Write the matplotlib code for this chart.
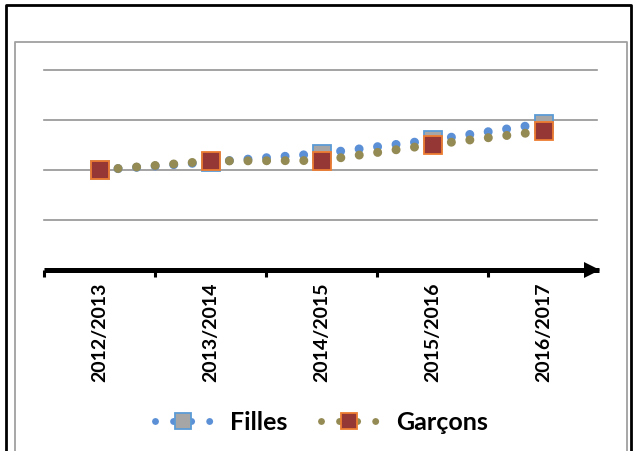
import matplotlib
matplotlib.use("Agg")
import matplotlib.pyplot as plt
from matplotlib.lines import Line2D
import numpy as np

# data (y; the value axis has no labels, 1 unit = 1 gridline)
annees = ["2012/2013", "2013/2014", "2014/2015", "2015/2016", "2016/2017"]
filles = [2.00, 2.16, 2.33, 2.60, 2.93]
garcons = [2.00, 2.18, 2.19, 2.51, 2.78]

BLEU = "#5B8FD6"
GRIS = "#A6A6A6"
BORD_BLEU = "#5B9BD5"
OLIVE = "#948A54"
ROUGE = "#953735"
ORANGE = "#ED7D31"

W, H = 634, 451
fig = plt.figure(figsize=(W / 100, H / 100), dpi=100)

# chart area borders (open at the bottom, like the crop)
fig.add_artist(Line2D([5.5 / W, 5.5 / W, 630.5 / W, 630.5 / W],
                      [0, 1 - 4.5 / H, 1 - 4.5 / H, 0], color="black", lw=2.0))
fig.add_artist(Line2D([15 / W, 15 / W, 627 / W, 627 / W],
                      [0, 1 - 41.5 / H, 1 - 41.5 / H, 0], color="#A0A0A0", lw=1.3))

ax = fig.add_axes([44 / W, 1 - 270 / H, 555 / W, 200 / H])
x = np.arange(len(annees))
ax.set_xlim(-0.5, len(annees) - 0.5)
ax.set_ylim(0, 4)

for v in [1, 2, 3, 4]:
    ax.plot([0, 553 / 555], [v / 4, v / 4], transform=ax.transAxes,
            color="#949494", lw=1.2, zorder=1, clip_on=False)

lw = 6.5
motif = (0, (0.001, 2.06))
ax.plot(x, filles, color=BLEU, lw=lw, linestyle=motif, dash_capstyle="round",
        marker="s", ms=12.5, mfc=GRIS, mec=BORD_BLEU, mew=1.3, zorder=3)
ax.plot(x, garcons, color=OLIVE, lw=lw, linestyle=motif, dash_capstyle="round",
        marker="s", ms=12.5, mfc=ROUGE, mec=ORANGE, mew=1.3, zorder=4)

for s in ["top", "right", "left"]:
    ax.spines[s].set_visible(False)
ax.spines["bottom"].set_linewidth(3.6)
ax.spines["bottom"].set_capstyle("butt")
# arrow head at the end of the axis
ax.plot([548 / 555], [0], transform=ax.transAxes, marker=">", ms=11.5,
        color="black", mew=0, clip_on=False, zorder=5)

ax.set_yticks([])
ax.set_xticks(np.arange(-0.5, len(annees) - 1, 1.0))
ax.set_xticklabels([])
ax.tick_params(axis="x", which="major", direction="out", length=5, width=2.2,
               color="black")
ax.set_xticks(x, minor=True)
ax.set_xticklabels(annees, minor=True, rotation=90, fontsize=14,
                   fontweight="bold", family="Lato")
ax.tick_params(axis="x", which="minor", length=0, pad=9)

hf = Line2D([], [], color=BLEU, lw=5, linestyle=(0, (0.001, 2.6)),
            dash_capstyle="round", marker="s", ms=11, mfc=GRIS,
            mec=BORD_BLEU, mew=1.3)
hg = Line2D([], [], color=OLIVE, lw=5, linestyle=(0, (0.001, 2.6)),
            dash_capstyle="round", marker="s", ms=11, mfc=ROUGE,
            mec=ORANGE, mew=1.3)
fig.legend([hf, hg], ["Filles", "Garçons"], loc="center",
           bbox_to_anchor=(0.507, 0.064), ncol=2, frameon=False,
           prop={"family": "Lato", "weight": "bold", "size": 18},
           handlelength=2.24, handletextpad=0.76, columnspacing=1.36)

fig.savefig("out.png", dpi=100)
